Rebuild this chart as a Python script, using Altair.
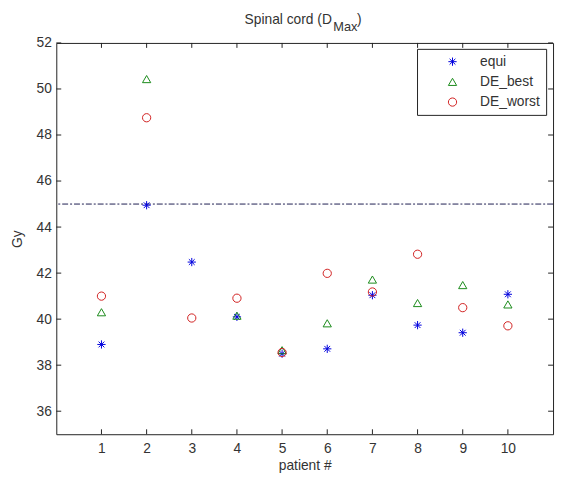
import altair as alt
import pandas as pd

patients = [1, 2, 3, 4, 5, 6, 7, 8, 9, 10]
equi = [38.9, 44.95, 42.48, 40.1, 38.5, 38.71, 41.04, 39.74, 39.41, 41.08]
de_best = [40.3, 50.43, None, 40.15, 38.65, 39.82, 41.72, 40.7, 41.48, 40.64]
de_worst = [41.0, 48.75, 40.05, 40.91, 38.55, 41.99, 41.18, 42.82, 40.5, 39.71]
series_names = ["equi", "DE_best", "DE_worst"]
threshold = [45]
y_ticks = [36, 38, 40, 42, 44, 46, 48, 50, 52]
x_ticks = [1, 2, 3, 4, 5, 6, 7, 8, 9, 10]

rows = []
for name, vals in zip(series_names, [equi, de_best, de_worst]):
    for p, v in zip(patients, vals):
        if v is not None:
            rows.append({"patient": p, "Gy": v, "series": name})
df = pd.DataFrame(rows)

W, H = 504, 397
FONT = "Liberation Sans"
TXT = "#333333"

xs = alt.Scale(domain=[0, 11], nice=False, zero=False)
ys = alt.Scale(domain=[35, 52], nice=False, zero=False)

star = "M0,-1L0,1M-1,0L1,0M-0.7,-0.7L0.7,0.7M-0.7,0.7L0.7,-0.7"

points = alt.Chart(df).mark_point(filled=False, strokeWidth=1, opacity=1, size=70).encode(
    x=alt.X("patient:Q", scale=xs,
            axis=alt.Axis(values=x_ticks, title="patient #", ticks=False, domain=False,
                          grid=False, labelPadding=8, titlePadding=3)),
    y=alt.Y("Gy:Q", scale=ys,
            axis=alt.Axis(values=y_ticks, title="Gy", ticks=False, domain=False,
                          grid=False, labelPadding=5, titlePadding=12)),
    color=alt.Color("series:N",
                    scale=alt.Scale(domain=series_names, range=["#0000dd", "#1a8a1a", "#d02020"]),
                    legend=alt.Legend(title=None, orient="none", legendX=366, legendY=6,
                                      strokeColor="#222222", fillColor="white", padding=6,
                                      symbolOffset=23, labelOffset=21, rowPadding=6.5,
                                      labelExpr="datum.label + '                  '")),
    shape=alt.Shape("series:N",
                    scale=alt.Scale(domain=series_names, range=[star, "triangle-up", "circle"]),
                    legend=None),
    order=alt.Order("ord:Q"),
).transform_calculate(
    ord="datum.series == 'equi' ? 0 : datum.series == 'DE_best' ? 1 : 2"
)

thr = alt.Chart(pd.DataFrame({"v": threshold})).mark_rule(
    color="#1c1c50", strokeWidth=1, strokeDash=[6, 2, 2, 2]
).encode(y=alt.Y("v:Q", scale=ys))

ydf = pd.DataFrame({"t": y_ticks})
xdf = pd.DataFrame({"t": x_ticks})
tick_style = dict(color="#222222", strokeWidth=1)
lt = alt.Chart(ydf).mark_rule(**tick_style).encode(y=alt.Y("t:Q", scale=ys), x=alt.value(0), x2=alt.value(5))
rt = alt.Chart(ydf).mark_rule(**tick_style).encode(y=alt.Y("t:Q", scale=ys), x=alt.value(W), x2=alt.value(W - 5))
bt = alt.Chart(xdf).mark_rule(**tick_style).encode(x=alt.X("t:Q", scale=xs), y=alt.value(H), y2=alt.value(H - 5))
tt = alt.Chart(xdf).mark_rule(**tick_style).encode(x=alt.X("t:Q", scale=xs), y=alt.value(0), y2=alt.value(5))

title_main = alt.Chart(pd.DataFrame({"s": ["Spinal cord (D"]})).mark_text(
    align="left", baseline="alphabetic", font=FONT, fontSize=14, color=TXT
).encode(text="s:N", x=alt.value(191), y=alt.value(-19))
title_sub = alt.Chart(pd.DataFrame({"s": ["Max"]})).mark_text(
    align="left", baseline="alphabetic", font=FONT, fontSize=13, color=TXT
).encode(text="s:N", x=alt.value(281), y=alt.value(-12))
title_end = alt.Chart(pd.DataFrame({"s": [")"]})).mark_text(
    align="left", baseline="alphabetic", font=FONT, fontSize=14, color=TXT
).encode(text="s:N", x=alt.value(305), y=alt.value(-19))

chart = alt.layer(thr, lt, rt, bt, tt, points, title_main, title_sub, title_end).properties(
    width=W, height=H,
    autosize=alt.AutoSizeParams(type="none"),
    padding={"left": 49, "top": 32, "right": 3, "bottom": 44},
).configure_view(stroke="#222222", strokeWidth=1).configure_axis(
    labelFont=FONT, labelFontSize=14, labelColor=TXT,
    titleFont=FONT, titleFontSize=14, titleColor=TXT, titleFontWeight="normal",
).configure_legend(
    labelFont=FONT, labelFontSize=14, labelColor=TXT, symbolStrokeWidth=1, symbolSize=70,
    cornerRadius=0,
)

chart.save("out.html", embed_options={"renderer": "svg", "actions": False})
